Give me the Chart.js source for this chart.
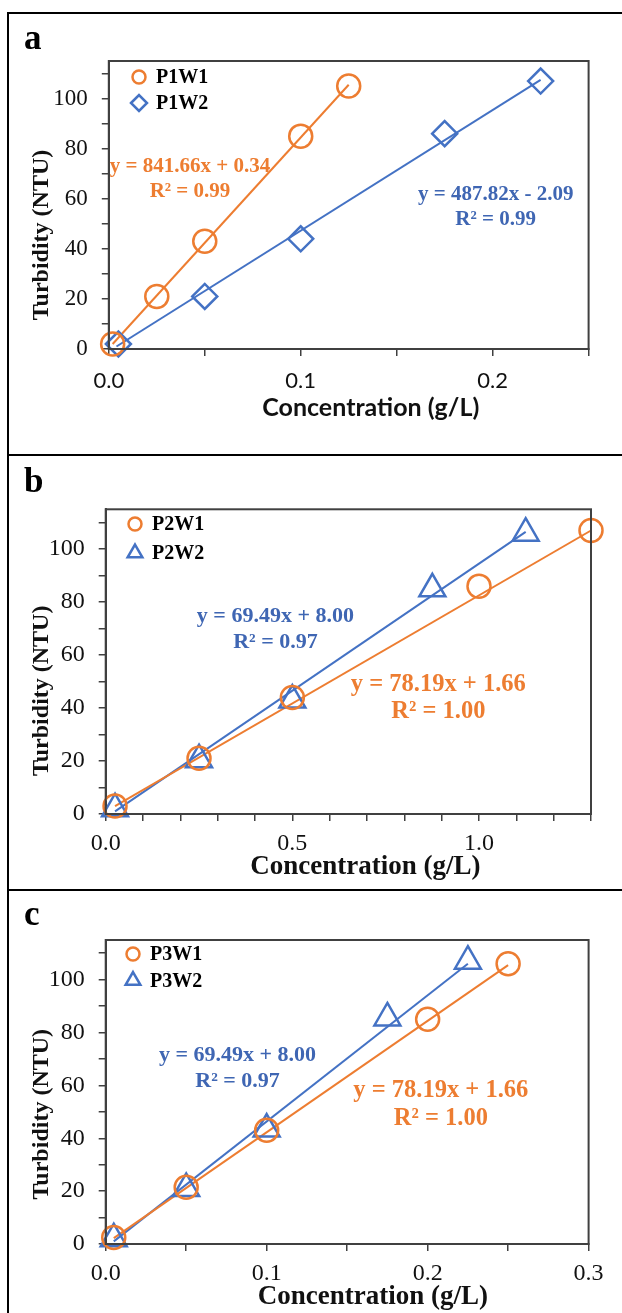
<!DOCTYPE html>
<html>
<head>
<meta charset="utf-8">
<script src="https://cdn.jsdelivr.net/npm/chart.js@4/dist/chart.umd.min.js"></script>
<style>
body{margin:0;background:#fff}
#page{position:relative;width:622px;height:1313px;overflow:hidden;background:#fff}
.panel{position:absolute;left:7px;width:700px;border-top:2px solid #000;border-left:2px solid #000;box-sizing:border-box}
canvas{position:absolute;left:0}
</style>
</head>
<body>
<div id="page">
<div class="panel" style="top:12px;height:443px"></div>
<div class="panel" style="top:454px;height:436px"></div>
<div class="panel" style="top:889px;height:430px"></div>
<canvas id="chartA" width="622" height="441" style="top:13px"></canvas>
<canvas id="chartB" width="622" height="434" style="top:455px"></canvas>
<canvas id="chartC" width="622" height="423" style="top:890px"></canvas>
</div>
<script>
// ===== DATA =====
const yLabels=[0,20,40,60,80,100]

// panel a
const namesA=['P1W1','P1W2']
const a1x=[0.002,0.025,0.05,0.1,0.125]
const a1y=[2,21,43,85,105]
const a2x=[0.005,0.05,0.1,0.175,0.225]
const a2y=[2,21,44,86,107]
const aFit1x=[0.002,0.125], aFit1y=[2,105.5]
const aFit2x=[0.004,0.225], aFit2y=[1,107.5]
const aEq1=['y = 841.66x + 0.34','R² = 0.99']
const aEq2=['y = 487.82x - 2.09','R² = 0.99']
const aXLabels=[0,0.1,0.2]

// panel b
const namesB=['P2W1','P2W2']
const b1x=[0.025,0.25,0.5,1.0,1.3]
const b1y=[3,21,44,86,107]
const b2x=[0.025,0.25,0.5,0.875,1.125]
const b2y=[2,20.5,43,85,106]
const bFit1x=[0.025,1.3], bFit1y=[3,107]
const bFit2x=[0.025,1.125], bFit2y=[1,106.5]
const bEq1=['y = 78.19x + 1.66','R² = 1.00']
const bEq2=['y = 69.49x + 8.00','R² = 0.97']
const bXLabels=[0,0.5,1.0]

// panel c
const namesC=['P3W1','P3W2']
const c1x=[0.005,0.05,0.1,0.2,0.25]
const c1y=[2.5,21.5,43,85,106]
const c2x=[0.005,0.05,0.1,0.175,0.225]
const c2y=[2,21,43.5,85.5,107]
const cFit1x=[0.005,0.25], cFit1y=[2.2,105.5]
const cFit2x=[0.005,0.225], cFit2y=[1,106]
const cEq1=['y = 78.19x + 1.66','R² = 1.00']
const cEq2=['y = 69.49x + 8.00','R² = 0.97']
const cXLabels=[0,0.1,0.2,0.3]

const ORANGE='#ED7D31'
const BLUE='#4472C4'
const BLUE_TXT='#3F66B3'
const SERIF='"Liberation Serif","Times New Roman",serif'
const SANS='Lato,"Liberation Sans",sans-serif'

const pts=(xs,ys)=>xs.map((x,i)=>({x:x,y:ys[i]}))

// ===== extra drawing: frame, letter, titles, legend, equations =====
const extras={
  id:'extras',
  afterDraw(chart,args,o){
    const ctx=chart.ctx, ca=chart.chartArea, sx=chart.scales.x, sy=chart.scales.y
    ctx.save()
    ctx.strokeStyle='#404040'; ctx.lineWidth=2
    ctx.strokeRect(ca.left,ca.top,ca.right-ca.left,ca.bottom-ca.top)

    ctx.fillStyle='#000'
    ctx.textAlign='left'; ctx.textBaseline='alphabetic'
    ctx.font='bold 35px '+SERIF
    ctx.fillText(o.letter,24,o.letterY)

    // x title
    ctx.textAlign='center'; ctx.textBaseline='middle'
    ctx.font=o.xTitleFont
    ctx.fillStyle='#111'
    ctx.fillText('Concentration (g/L)',o.xTitleX,o.xTitleY)
    // y title
    ctx.save()
    ctx.translate(41.7,o.yTitleY)
    ctx.rotate(-Math.PI/2)
    ctx.font='bold 24px '+SERIF
    ctx.fillText('Turbidity (NTU)',0,0)
    ctx.restore()

    // equations
    o.eqs.forEach(e=>{
      ctx.fillStyle=e.color
      ctx.font='bold '+e.size+'px '+SERIF
      const px=sx.getPixelForValue(e.x), py=sy.getPixelForValue(e.y)
      ctx.fillText(e.lines[0],px,py)
      ctx.fillText(e.lines[1],px,py+e.gap)
    })

    // legend
    o.legend.forEach((it,i)=>{
      const ds=chart.data.datasets[i]
      ctx.strokeStyle=ds.borderColor
      ctx.fillStyle='rgba(0,0,0,0)'
      ctx.lineWidth=2.5
      Chart.helpers.drawPoint(ctx,{pointStyle:ds.pointStyle,radius:it.r,borderWidth:2.5,rotation:0},o.legMarkX,it.y)
      ctx.fillStyle='#000'
      ctx.textAlign='left'
      ctx.font='bold 20px '+SERIF
      ctx.fillText(ds.label,o.legTextX,it.y+1)
    })
    ctx.restore()
  }
}

function makePanel(id,cfg){
  const ds=[
    {label:cfg.names[0],data:pts(cfg.s1x,cfg.s1y),pointStyle:'circle',pointRadius:11.5,borderColor:ORANGE,backgroundColor:'rgba(0,0,0,0)',borderWidth:2.5,showLine:false,clip:false},
    {label:cfg.names[1],data:pts(cfg.s2x,cfg.s2y),pointStyle:cfg.style2,pointRadius:cfg.r2,borderColor:BLUE,backgroundColor:'rgba(0,0,0,0)',borderWidth:2.5,showLine:false,clip:false},
    {label:'fit1',data:pts(cfg.f1x,cfg.f1y),showLine:true,pointRadius:0,borderColor:ORANGE,borderWidth:2,clip:false},
    {label:'fit2',data:pts(cfg.f2x,cfg.f2y),showLine:true,pointRadius:0,borderColor:BLUE,borderWidth:2,clip:false}
  ]
  return new Chart(document.getElementById(id),{
    type:'scatter',
    data:{datasets:ds},
    options:{
      responsive:false,
      animation:false,
      devicePixelRatio:1,
      layout:{padding:{left:0,top:cfg.padTop,right:cfg.padRight,bottom:0}},
      plugins:{legend:{display:false},tooltip:{enabled:false},extras:cfg.look},
      scales:{
        x:{
          type:'linear',min:0,max:cfg.xMax,
          afterFit(s){s.height=cfg.xAxisH},
          border:{display:true,color:'#404040',width:2},
          grid:{drawOnChartArea:false,drawTicks:true,tickLength:7,color:'#404040',lineWidth:1.5},
          ticks:{stepSize:cfg.xStep,autoSkip:false,maxRotation:0,padding:cfg.xPad,color:'#111',
            font:{family:cfg.xFont,size:cfg.xSize},
            callback:v=>cfg.xLabels.some(l=>Math.abs(l-v)<1e-9)?v.toFixed(1):''}
        },
        y:{
          type:'linear',min:0,max:115,
          afterFit(s){s.width=cfg.plotLeft},
          border:{display:true,color:'#404040',width:2},
          grid:{drawOnChartArea:false,drawTicks:true,tickLength:7,color:'#404040',lineWidth:1.5},
          ticks:{stepSize:10,includeBounds:false,autoSkip:false,padding:14,color:'#111',
            font:{family:SERIF,size:cfg.ySize},
            callback:v=>yLabels.includes(v)?String(v):''}
        }
      }
    },
    plugins:[extras]
  })
}

makePanel('chartA',{
  names:namesA,s1x:a1x,s1y:a1y,s2x:a2x,s2y:a2y,f1x:aFit1x,f1y:aFit1y,f2x:aFit2x,f2y:aFit2y,
  style2:'rectRot',r2:12.5,xMax:0.25,xStep:0.05,xLabels:aXLabels,xFont:SANS,xSize:22,xPad:12,ySize:23,
  plotLeft:108.8,padTop:48,padRight:33.4,xAxisH:105,
  look:{letter:'a',letterY:36.3,xTitleFont:'bold 25px '+SANS,xTitleX:370.8,xTitleY:395.3,yTitleY:222,
    legMarkX:139,legTextX:156,legend:[{y:64,r:6.5},{y:90,r:8}],
    eqs:[{lines:aEq1,x:0.0423,y:73,gap:25,size:21,color:ORANGE},{lines:aEq2,x:0.2016,y:61.5,gap:25,size:21,color:BLUE_TXT}]}
})

makePanel('chartB',{
  names:namesB,s1x:b1x,s1y:b1y,s2x:b2x,s2y:b2y,f1x:bFit1x,f1y:bFit1y,f2x:bFit2x,f2y:bFit2y,
  style2:'triangle',r2:15,xMax:1.3,xStep:0.1,xLabels:bXLabels,xFont:SERIF,xSize:24,xPad:8,ySize:24,
  plotLeft:105.7,padTop:54.3,padRight:31,xAxisH:75,
  look:{letter:'b',letterY:36.7,xTitleFont:'bold 27px '+SERIF,xTitleX:365.4,xTitleY:411.7,yTitleY:235.8,
    legMarkX:135,legTextX:152,legend:[{y:69,r:6.5},{y:98,r:8.5}],
    eqs:[{lines:bEq2,x:0.4546,y:74.5,gap:26,size:22,color:BLUE_TXT},{lines:bEq1,x:0.891,y:48.7,gap:27,size:24.5,color:ORANGE}]}
})

makePanel('chartC',{
  names:namesC,s1x:c1x,s1y:c1y,s2x:c2x,s2y:c2y,f1x:cFit1x,f1y:cFit1y,f2x:cFit2x,f2y:cFit2y,
  style2:'triangle',r2:15,xMax:0.3,xStep:0.05,xLabels:cXLabels,xFont:SERIF,xSize:24,xPad:8,ySize:24,
  plotLeft:105.7,padTop:50,padRight:33.4,xAxisH:69,
  look:{letter:'c',letterY:35,xTitleFont:'bold 27px '+SERIF,xTitleX:372.8,xTitleY:406.7,yTitleY:224.2,
    legMarkX:133,legTextX:150,legend:[{y:64,r:6.5},{y:90.5,r:8.5}],
    eqs:[{lines:cEq2,x:0.0819,y:71.4,gap:26,size:22,color:BLUE_TXT},{lines:cEq1,x:0.2082,y:57.9,gap:27.5,size:24.5,color:ORANGE}]}
})
</script>
</body>
</html>
